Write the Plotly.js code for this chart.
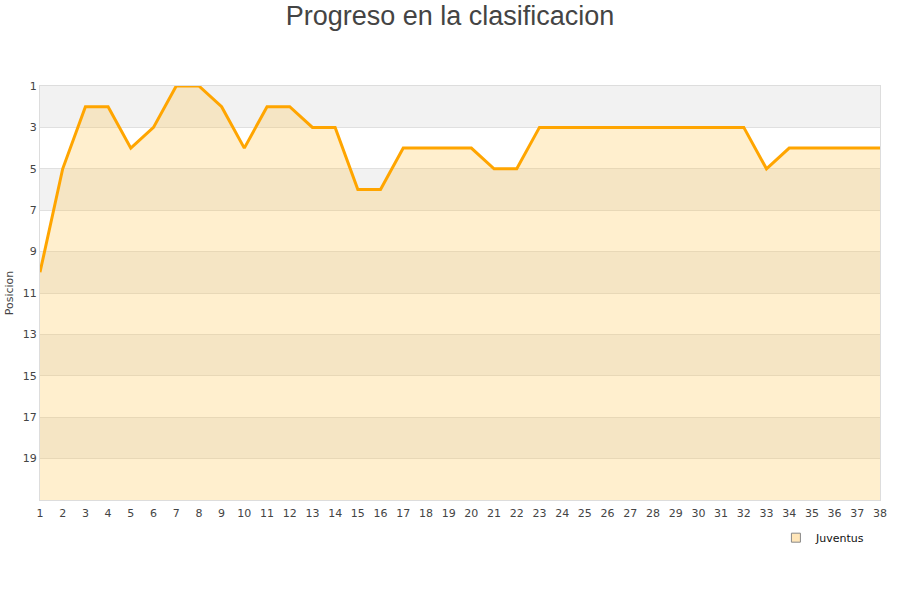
<!DOCTYPE html>
<html>
<head>
<meta charset="utf-8">
<script src="https://cdn.plot.ly/plotly-3.0.1.min.js"></script>
<style>body{margin:0;background:#fff;} #chart{width:900px;height:600px;}</style>
</head>
<body>
<div id="chart"></div>
<script>
const jornadas = [1,2,3,4,5,6,7,8,9,10,11,12,13,14,15,16,17,18,19,20,21,22,23,24,25,26,27,28,29,30,31,32,33,34,35,36,37,38];
const posiciones = [10,5,2,2,4,3,1,1,2,4,2,2,3,3,6,6,4,4,4,4,5,5,3,3,3,3,3,3,3,3,3,3,5,4,4,4,4,4];
const equipo = "Juventus";
const yTicks = [1,3,5,7,9,11,13,15,17,19];
const numEquipos = 20;

const bottom = numEquipos + 1;
const baseline = {x: jornadas, y: jornadas.map(() => bottom), mode: 'lines', line: {width: 0, color: 'rgba(0,0,0,0)'}, hoverinfo: 'skip', showlegend: false};
const area = {x: jornadas, y: posiciones, mode: 'lines', fill: 'tonexty', fillcolor: 'rgba(255,190,60,0.25)', line: {color: '#ffa500', width: 3}, showlegend: false, cliponaxis: true};
const legendTrace = {x: [null], y: [null], mode: 'markers', name: equipo, marker: {symbol: 'square', size: 9, color: 'rgba(255,230,185,1)', line: {color: '#888', width: 1}}};

const shapes = [];
for (let i = 0; i < yTicks.length; i++) {
  if (i % 2 === 0) {
    shapes.push({type: 'rect', xref: 'paper', yref: 'y', x0: 0, x1: 1, y0: yTicks[i], y1: yTicks[i] + 2, fillcolor: '#f2f2f2', line: {width: 0}, layer: 'below'});
  }
}

const layout = {
  width: 900, height: 600,
  margin: {l: 40, r: 20, t: 86, b: 100},
  paper_bgcolor: '#fff', plot_bgcolor: '#fff',
  font: {family: 'DejaVu Sans, sans-serif', size: 11, color: '#444'},
  title: {text: 'Progreso en la clasificacion', font: {family: 'Liberation Sans, Arial, sans-serif', size: 27, color: '#444'}, x: 0.5, xanchor: 'center', y: 0.99, yanchor: 'top'},
  xaxis: {range: [1, 38], tickmode: 'array', tickvals: jornadas, ticktext: jornadas.map(String), showgrid: false, zeroline: false, showline: true, linecolor: '#ddd', mirror: true, ticks: '', ticklabelstandoff: 3, tickfont: {size: 11, color: '#444'}},
  yaxis: {range: [bottom, 1], tickmode: 'array', tickvals: yTicks, ticktext: yTicks.map(String), showgrid: true, gridcolor: '#e0e0e0', zeroline: false, showline: true, linecolor: '#ddd', mirror: true, ticks: '', tickfont: {size: 11, color: '#444'}, title: {text: 'Posicion', font: {size: 11, color: '#444'}, standoff: 6}},
  shapes: shapes,
  showlegend: true,
  legend: {x: 0.988, xanchor: 'right', y: -0.056, yanchor: 'top', font: {size: 11, color: '#111'}, bgcolor: 'rgba(0,0,0,0)'}
};
Plotly.newPlot('chart', [baseline, area, legendTrace], layout, {displayModeBar: false});
</script>
</body>
</html>
